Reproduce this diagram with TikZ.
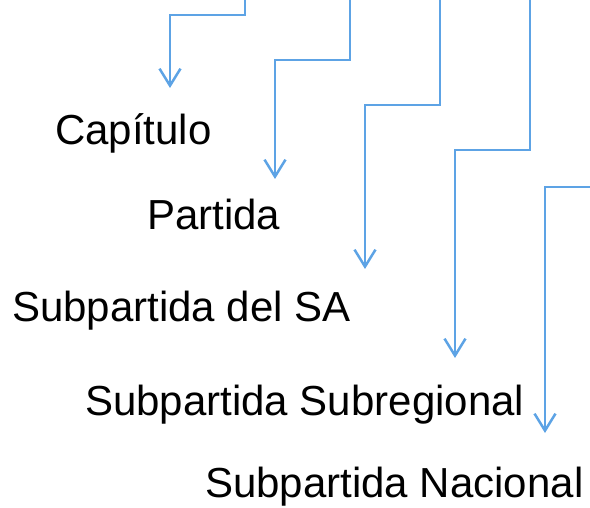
\documentclass[tikz,border=0pt]{standalone}
\usepackage{fontspec}
\setmainfont{Liberation Sans}
\usetikzlibrary{arrows.meta, positioning}

\definecolor{flechaazul}{RGB}{93,163,229}
\tikzset{
    flecha/.style={draw=flechaazul, line width=2.5pt, -{Straight Barb[length=17pt,width=21pt,line width=2.5pt]}},
    nivel/.style={anchor=base west, inner sep=0pt, font=\fontsize{42}{50}\selectfont}
}

\begin{document}
\begin{tikzpicture}[x=1pt, y=-1pt]
    \useasboundingbox (0,0) rectangle (590,508);

    % niveles
    \path (55,145) node [nivel] (capitulo) {Capítulo}
        (147,230) node [nivel] (partida) {Partida}
        (12,322) node [nivel] (subsa) {Subpartida del SA}
        (85,415) node [nivel] (subreg) {Subpartida Subregional}
        (205,497) node [nivel] (subnac) {Subpartida Nacional};

    % entradas y puntas
    \coordinate (e1) at (245,0);
    \coordinate (e2) at (350,0);
    \coordinate (e3) at (440,0);
    \coordinate (e4) at (530,0);
    \coordinate (e5) at (590,187);
    \coordinate (p1) at (170,88);
    \coordinate (p2) at (275,179);
    \coordinate (p3) at (365,269);
    \coordinate (p4) at (455,358);
    \coordinate (p5) at (545,433);

    \draw [flecha] (e1) -- ++(0,15) -| (p1);
    \draw [flecha] (e2) -- ++(0,60) -| (p2);
    \draw [flecha] (e3) -- ++(0,105) -| (p3);
    \draw [flecha] (e4) -- ++(0,150) -| (p4);
    \draw [flecha] (e5) -| (p5);
\end{tikzpicture}
\end{document}
